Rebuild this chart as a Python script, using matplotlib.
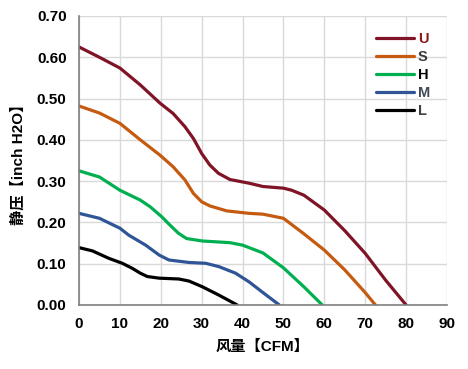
import numpy as np
import matplotlib
matplotlib.use('Agg')
import matplotlib.pyplot as plt

plt.rcParams['font.family'] = ['Liberation Sans', 'Noto Sans CJK SC', 'DejaVu Sans']

# curve data (CFM, inch H2O)
u_x = [0, 5, 10, 15, 19.8, 23, 25.9, 28, 30, 32, 34.1, 36.9, 41.6, 45, 50, 52, 55, 60, 65, 70, 75, 80]
u_y = [0.625, 0.60, 0.574, 0.533, 0.489, 0.464, 0.432, 0.403, 0.367, 0.339, 0.319, 0.304, 0.295, 0.287, 0.283, 0.278, 0.266, 0.23, 0.18, 0.125, 0.06, 0.0]

s_x = [0, 5, 10, 15, 19.8, 23, 25.9, 28, 30, 32, 36.1, 41.6, 45, 50, 54.8, 60, 65, 70, 72.5]
s_y = [0.482, 0.465, 0.44, 0.40, 0.363, 0.335, 0.303, 0.27, 0.25, 0.24, 0.228, 0.222, 0.22, 0.21, 0.174, 0.133, 0.085, 0.03, 0.0]

h_x = [0, 5, 10, 15, 17.4, 20.2, 22.2, 24.3, 26.3, 30.2, 36.9, 40, 45, 50, 55, 59.5]
h_y = [0.325, 0.31, 0.278, 0.254, 0.238, 0.214, 0.194, 0.174, 0.161, 0.155, 0.151, 0.145, 0.126, 0.09, 0.044, 0.0]

m_x = [0, 5, 10, 12.2, 16.3, 19.6, 22, 26.9, 31, 34.2, 38.3, 41.6, 45, 49]
m_y = [0.222, 0.21, 0.186, 0.169, 0.145, 0.121, 0.109, 0.103, 0.101, 0.093, 0.077, 0.056, 0.03, 0.0]

l_x = [0, 3.3, 7.3, 10.6, 13, 15, 16.7, 19.6, 24.4, 26.9, 30.2, 34.2, 38.7]
l_y = [0.139, 0.131, 0.113, 0.101, 0.089, 0.077, 0.069, 0.065, 0.063, 0.058, 0.044, 0.024, 0.0]

names = ['U', 'S', 'H', 'M', 'L']
colors = ['#7f1426', '#c55a11', '#00b050', '#2f5597', '#000000']
label_colors = ['#8b1a1a', '#3a3a3a', '#000000', '#404a55', '#404040']
xs = [u_x, s_x, h_x, m_x, l_x]
ys = [u_y, s_y, h_y, m_y, l_y]

fig = plt.figure(figsize=(4.68, 3.69), dpi=100)
ax = fig.add_axes([79/468, 1-305/369, (447-79)/468, (305-16)/369])

for x, y, c, n in zip(xs, ys, colors, names):
    ax.plot(x, y, color=c, linewidth=2.3, label=n,
            solid_capstyle='round', solid_joinstyle='round')

ax.set_xlim(0, 90)
ax.set_ylim(0, 0.70)
ax.set_xticks(np.arange(0, 91, 10))
ax.set_yticks(np.arange(0, 0.71, 0.1))
ax.set_yticklabels(['%.2f' % v for v in np.arange(0, 0.71, 0.1)])
ax.grid(True, color='#d9d9d9', linewidth=1)
ax.set_axisbelow(True)
for s in ['top', 'right']:
    ax.spines[s].set_visible(False)
for s in ['left', 'bottom']:
    ax.spines[s].set_color('#808080')
    ax.spines[s].set_linewidth(1.2)
ax.tick_params(length=0, labelsize=11, pad=9)
for t in ax.get_xticklabels() + ax.get_yticklabels():
    t.set_fontweight('bold')

leg = ax.legend(loc='upper right', frameon=False, handlelength=2.6, handletextpad=0.3,
                labelspacing=0.28, fontsize=10.5, bbox_to_anchor=(0.99, 0.99))
for t, c in zip(leg.get_texts(), label_colors):
    t.set_color(c)
    t.set_fontweight('bold')

ax.set_xlabel('风量【CFM】', fontsize=11, fontweight='bold', labelpad=6)
ax.set_ylabel('静压【inch H2O】', fontsize=11, fontweight='bold', labelpad=8)

fig.savefig('out.png', dpi=100)
